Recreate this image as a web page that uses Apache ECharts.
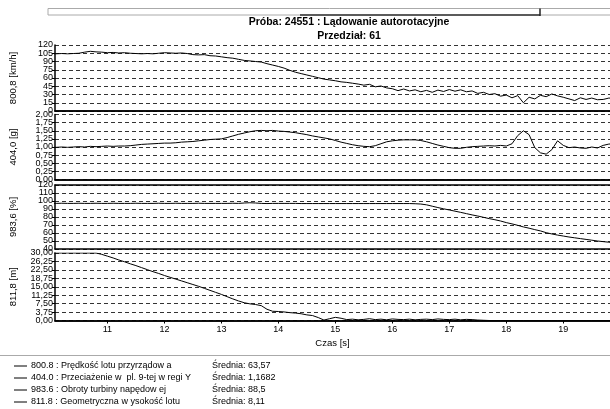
<!DOCTYPE html>
<html>
<head>
<meta charset="utf-8">
<script src="https://cdn.jsdelivr.net/npm/echarts@6/dist/echarts.min.js"></script>
<style>
  html, body { margin: 0; padding: 0; background: #fff; }
  #chart { width: 610px; height: 409px; }
</style>
</head>
<body>
<div id="chart"></div>
<script>
// czas [s]
const czas = [
  10.0, 10.1, 10.2, 10.3, 10.4, 10.5, 10.6, 10.7, 10.8, 10.9,
  11.0, 11.1, 11.2, 11.3, 11.4, 11.5, 11.6, 11.7, 11.8, 11.9,
  12.0, 12.1, 12.2, 12.3, 12.4, 12.5, 12.6, 12.7, 12.8, 12.9,
  13.0, 13.1, 13.2, 13.3, 13.4, 13.5, 13.6, 13.7, 13.8, 13.9,
  14.0, 14.1, 14.2, 14.3, 14.4, 14.5, 14.6, 14.7, 14.8, 14.9,
  15.0, 15.1, 15.2, 15.3, 15.4, 15.5, 15.6, 15.7, 15.8, 15.9,
  16.0, 16.1, 16.2, 16.3, 16.4, 16.5, 16.6, 16.7, 16.8, 16.9,
  17.0, 17.1, 17.2, 17.3, 17.4, 17.5, 17.6, 17.7, 17.8, 17.9,
  18.0, 18.1, 18.2, 18.3, 18.4, 18.5, 18.6, 18.7, 18.8, 18.9,
  19.0, 19.1, 19.2, 19.3, 19.4, 19.5, 19.6, 19.7, 19.8, 19.9
]

// 800.8 predkosc [km/h]
const predkosc = [
  104, 104, 104.5, 104, 104.5, 105, 107, 108.5, 107.5, 107,
  106, 106.5, 105.5, 106, 105, 104.5, 104, 104.5, 104, 105,
  106, 105.5, 105, 105.5, 104.5, 102.5, 102, 102.5, 100.5, 100,
  98.5, 97, 96, 94, 92, 91, 90, 89, 86, 83.5,
  81, 78, 74, 70.5, 68, 65.5, 63, 60.5, 58, 56.5,
  55, 53, 52, 50.5, 49, 47, 48.5, 44, 45.5, 42,
  40.5, 37, 40, 36.5, 38.5, 35, 37.5, 34, 38, 35.5,
  39, 36, 38.5, 35, 36.5, 32, 34, 30, 31.5, 27,
  29, 24, 28, 15, 25, 22, 28.5, 26, 31, 27.5,
  25, 22, 19, 24, 21, 23.5, 20.5, 21, 23.5, 23
]

// 404.0 przeciazenie [g]
const przeciazenie = [
  0.99, 0.99, 1.00, 0.99, 1.00, 1.01, 1.00, 1.02, 1.01, 1.02,
  1.03, 1.02, 1.03, 1.03, 1.04, 1.06, 1.08, 1.09, 1.10, 1.11,
  1.12, 1.12, 1.13, 1.15, 1.16, 1.17, 1.19, 1.21, 1.23, 1.24,
  1.25, 1.29, 1.34, 1.39, 1.43, 1.47, 1.50, 1.51, 1.50, 1.51,
  1.49, 1.48, 1.46, 1.44, 1.41, 1.38, 1.34, 1.31, 1.28, 1.25,
  1.20, 1.15, 1.11, 1.07, 1.04, 1.02, 1.01, 1.04, 1.10, 1.16,
  1.19, 1.21, 1.22, 1.22, 1.22, 1.20, 1.16, 1.11, 1.06, 1.02,
  0.98, 0.96, 0.96, 0.99, 1.01, 1.02, 1.03, 1.04, 1.03, 1.05,
  1.03, 1.10, 1.35, 1.50, 1.38, 0.98, 0.82, 0.78, 0.92, 1.19,
  1.05, 0.98, 1.00, 0.97, 0.96, 1.00, 0.97, 1.05, 1.09, 1.10
]

// 983.6 obroty turbiny [%]
const turbina = [
  97, 97, 97.2, 97, 97, 97.2, 97, 97, 97.2, 97,
  97, 97.2, 97, 97, 97, 97.2, 97, 97, 97, 97.2,
  97, 97, 97.2, 97, 97, 97, 97.2, 97, 97, 97,
  97, 97, 97.2, 97, 97.5, 97.8, 97.5, 97, 96.8, 97,
  97, 97, 97, 97, 96.8, 96.8, 96.8, 96.8, 96.8, 96.8,
  96.8, 96.8, 96.8, 96.8, 96.8, 96.8, 96.8, 96.8, 96.8, 96.8,
  96.8, 96.8, 96.8, 96.8, 96.6, 96.2, 95.2, 93.5, 91.8, 90.2,
  88.8, 87.3, 85.8, 84.2, 82.6, 81.2, 79.6, 78.0, 76.6, 75.0,
  73.0, 71.4, 69.6, 67.6, 66.0, 64.2, 62.6, 60.4, 58.8, 57.4,
  56.2, 55.0, 54.0, 53.0, 52.0, 51.0, 50.0, 49.2, 48.5, 47.8
]

// 811.8 wysokosc [m]
const wysokosc = [
  30, 30, 30, 30, 30, 30, 30, 30, 30, 29.4,
  28.6, 27.8, 26.9, 26.1, 25.2, 24.4, 23.5, 22.6, 21.7, 20.9,
  20.0, 19.2, 18.4, 17.6, 16.8, 16.0, 15.2, 14.3, 13.4, 12.5,
  11.6, 10.6, 9.6, 8.7, 7.9, 7.4, 7.1, 6.6, 5.0, 4.1,
  4.0, 3.8, 3.5, 3.3, 3.0, 2.5, 2.2, 1.3, 0.2, 0.8,
  1.4, 1.0, 0.4, 0.6, 0.3, 0.5, 0.8, 0.4, 0.6, 0.3,
  0.7, 0.5, 0.4, 0.6, 0.3, 0.5, 0.6, 0.4, 0.7, 0.5,
  0.4, 0.6, 0.3, 0.5, 0.4, 0.2, 0.1, 0, 0, 0,
  0, 0, 0, 0, 0, 0, 0, 0, 0, 0,
  0, 0, 0, 0, 0, 0, 0, 0, 0, 0
]

const osieY = ['800,8 [km/h]', '404,0 [g]', '983,6 [%]', '811,8 [m]']
const zakresY = [[0, 120, 15], [0, 2, 0.25], [40, 120, 10], [0, 30, 3.75]]
const legendaKody = ['800.8', '404.0', '983.6', '811.8']
const legendaNazwy = [
  'Prędkość lotu przyrządow a',
  'Przeciażenie w  pl. 9-tej w regi Y',
  'Obroty turbiny napędow ej',
  'Geometryczna w ysokość lotu'
]
const srednie = ['63,57', '1,1682', '88,5', '8,11']

const FONT = 'Liberation Sans, Arial, sans-serif'
const panele = [
  { top: 45, height: 66 },
  { top: 114.5, height: 65 },
  { top: 185, height: 64 },
  { top: 253, height: 67.5 }
]
const serie = [predkosc, przeciazenie, turbina, wysokosc]

const grid = panele.map(p => ({ left: 55, right: 0, top: p.top, height: p.height }))

const xAxis = []
panele.forEach((p, i) => {
  const last = i === panele.length - 1
  xAxis.push({
    type: 'value', gridIndex: i, min: 10.08, max: 19.82, splitNumber: 10,
    axisLine: { show: true, lineStyle: { color: '#000', width: 1.5 } },
    axisTick: { show: last, length: 3, lineStyle: { color: '#000' } },
    axisLabel: {
      show: last, color: '#000', fontSize: 9, fontFamily: FONT, margin: 5,
      showMinLabel: false, showMaxLabel: false
    },
    splitLine: { show: false },
    name: last ? 'Czas [s]' : '',
    nameLocation: 'middle', nameGap: 18,
    nameTextStyle: { color: '#000', fontSize: 9.5, fontFamily: FONT }
  })
  xAxis.push({
    type: 'value', gridIndex: i, position: 'top', min: 10.08, max: 19.82,
    axisLine: { show: true, lineStyle: { color: '#000', width: 1.5 } },
    axisTick: { show: false }, axisLabel: { show: false }, splitLine: { show: false }
  })
})

const fmt = (i, v) => (i === 1 || i === 3) ? v.toFixed(2).replace('.', ',') : String(v)

const yAxis = []
panele.forEach((p, i) => {
  const [mn, mx, step] = zakresY[i]
  // glowna os: linie siatki, kreski i etykiety posrednie
  yAxis.push({
    type: 'value', gridIndex: i, min: mn, max: mx, interval: step,
    name: osieY[i], nameLocation: 'middle', nameGap: 37,
    nameTextStyle: { color: '#000', fontSize: 9.5, fontFamily: FONT },
    axisLine: { show: true, lineStyle: { color: '#000', width: 1.5 } },
    axisTick: { show: true, length: 3, lineStyle: { color: '#000' } },
    axisLabel: {
      color: '#000', fontSize: 9, fontFamily: FONT, margin: 2,
      showMinLabel: false, showMaxLabel: false, hideOverlap: false,
      formatter: v => fmt(i, v)
    },
    splitLine: { show: true, lineStyle: { color: '#333', type: [4, 3], width: 1 } }
  })
  // druga os: tylko etykiety min i max
  yAxis.push({
    type: 'value', gridIndex: i, min: mn, max: mx, interval: step, position: 'left',
    axisLine: { show: false }, axisTick: { show: false }, splitLine: { show: false },
    axisLabel: {
      color: '#000', fontSize: 9, fontFamily: FONT, margin: 2,
      showMinLabel: true, showMaxLabel: true, hideOverlap: false,
      formatter: v => (v === mn || v === mx) ? fmt(i, v) : ''
    }
  })
})

const series = serie.map((vals, i) => ({
  type: 'line', xAxisIndex: i * 2, yAxisIndex: i * 2,
  data: czas.map((t, k) => [t, vals[k]]),
  showSymbol: false, silent: true, animation: false,
  lineStyle: { color: '#000', width: 1 }
}))

const graphic = [
  // pasek przewijania u gory
  { type: 'rect', shape: { x: 48, y: 8.5, width: 570, height: 6.5 }, style: { fill: 'none', stroke: '#aaa', lineWidth: 1 } },
  { type: 'line', shape: { x1: 300, y1: 15, x2: 540, y2: 15 }, style: { stroke: '#333', lineWidth: 1.5 } },
  { type: 'line', shape: { x1: 540, y1: 8.5, x2: 540, y2: 16 }, style: { stroke: '#222', lineWidth: 1.5 } },
  { type: 'text', x: 349, y: 17, style: { text: 'Próba: 24551 : Lądowanie autorotacyjne', fill: '#000', font: 'bold 10.5px ' + FONT, textAlign: 'center' } },
  { type: 'text', x: 349, y: 31, style: { text: 'Przedział: 61', fill: '#000', font: 'bold 10.5px ' + FONT, textAlign: 'center' } },
  { type: 'line', shape: { x1: 0, y1: 355.5, x2: 610, y2: 355.5 }, style: { stroke: '#aaa', lineWidth: 1 } }
]
legendaKody.forEach((kod, i) => {
  const y = 366 + i * 12
  graphic.push({ type: 'line', shape: { x1: 14, y1: y, x2: 27, y2: y }, style: { stroke: '#000', lineWidth: 1 } })
  graphic.push({ type: 'text', x: 31, y: y - 5, style: { text: kod + ' : ' + legendaNazwy[i], fill: '#000', font: '9px ' + FONT } })
  graphic.push({ type: 'text', x: 212, y: y - 5, style: { text: 'Średnia: ' + srednie[i], fill: '#000', font: '9px ' + FONT } })
})

const chart = echarts.init(document.getElementById('chart'))
chart.setOption({
  animation: false,
  grid, xAxis, yAxis, series, graphic
})
</script>
</body>
</html>
